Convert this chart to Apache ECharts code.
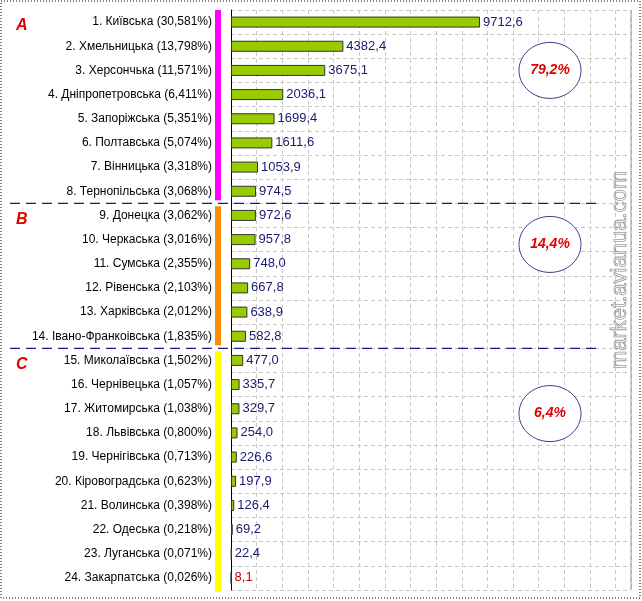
<!DOCTYPE html>
<html><head><meta charset="utf-8">
<script src="https://cdn.jsdelivr.net/npm/echarts@6/dist/echarts.min.js"></script>
<style>html,body{margin:0;padding:0;background:#fff}#c{width:642px;height:601px}</style>
</head><body><div id="c"></div>
<script>
const categories = ["1. Київська (30,581%)","2. Хмельницька (13,798%)","3. Херсончька (11,571%)","4. Дніпропетровська (6,411%)","5. Запоріжська (5,351%)","6. Полтавська (5,074%)","7. Вінницька (3,318%)","8. Тернопільська (3,068%)","9. Донецка (3,062%)","10. Черкаська (3,016%)","11. Сумська (2,355%)","12. Рівенська (2,103%)","13. Харківська (2,012%)","14. Івано-Франкоівська (1,835%)","15. Миколаївська (1,502%)","16. Чернівецька (1,057%)","17. Житомирська (1,038%)","18. Львівська (0,800%)","19. Чернігівська (0,713%)","20. Кіровоградська (0,623%)","21. Волинська (0,398%)","22. Одеська (0,218%)","23. Луганська (0,071%)","24. Закарпатська (0,026%)"];
const values = [9712.6,4382.4,3675.1,2036.1,1699.4,1611.6,1053.9,974.5,972.6,957.8,748.0,667.8,638.9,582.8,477.0,335.7,329.7,254.0,226.6,197.9,126.4,69.2,22.4,8.1];
const groups = [{name:"A",from:0,to:7,share:"79,2%",color:"#ff00ff"},{name:"B",from:8,to:13,share:"14,4%",color:"#ff8c00"},{name:"C",from:14,to:23,share:"6,4%",color:"#ffff00"}];
const chart = echarts.init(document.getElementById('c'));
const F = "Liberation Sans, Arial, sans-serif";
chart.setOption({
  animation:false,
  grid:{left:231,right:11,top:10,bottom:11},
  xAxis:{type:'value',min:0,max:15600,interval:1000,axisLabel:{show:false},axisTick:{show:false},
    axisLine:{show:false},splitLine:{lineStyle:{color:'#c8c8c8',type:[4,3]}}},
  yAxis:{type:'category',inverse:true,data:categories,
    axisLine:{lineStyle:{color:'#000'}},axisTick:{show:false},
    axisLabel:{margin:19,color:'#000',fontFamily:F,fontSize:12},
    splitLine:{show:true,lineStyle:{color:'#c8c8c8',type:[4,3]}}},
  series:[{type:'bar',data:values.map((v,i)=>({value:v,label:{color:i===23?'#cc0000':'#1a1a70'}})),
    barWidth:11,itemStyle:{color:'#99cc00',borderColor:'#333',borderWidth:1},
    label:{show:true,position:'right',distance:3,fontFamily:F,fontSize:13,
      formatter:p=>p.value.toFixed(1).replace('.',',')}}]
});
const g=[];
const rowY=i=>chart.convertToPixel({gridIndex:0},[0,i])[1];
const step=rowY(1)-rowY(0);
const ellRow=[2,1.2,2.2];
groups.forEach((gr,k)=>{
  const y0=rowY(gr.from)-step/2+(k===0?0:3), y1=rowY(gr.to)+step/2-(k===2?-2:3);
  g.push({type:'rect',shape:{x:215,y:y0,width:6,height:y1-y0},style:{fill:gr.color}});
  g.push({type:'text',x:16,y:rowY(gr.from)-4,style:{text:gr.name,fill:'#e00000',font:'italic bold 16px '+F}});
  const cy=rowY(gr.from)+step*ellRow[k];
  g.push({type:'ellipse',shape:{cx:550,cy:cy,rx:31,ry:28},style:{fill:'#fff',stroke:'#3a3a8a',lineWidth:1}});
  g.push({type:'text',x:550,y:cy,style:{text:gr.share,fill:'#e00000',font:'italic bold 14px '+F,align:'center',verticalAlign:'middle'}});
  if(k<2){const yl=rowY(gr.to)+step/2;
    g.push({type:'line',shape:{x1:10,y1:yl,x2:600,y2:yl},style:{stroke:'#1a1a80',lineWidth:1.3,lineDash:[10,6]}});}
});
g.push({type:'text',x:620,y:270,rotation:Math.PI/2,style:{text:'market.avianua.com',fill:'rgba(0,0,0,0)',stroke:'#999',lineWidth:0.8,font:'22px '+F,align:'center',verticalAlign:'middle'}});
g.push({type:'line',shape:{x1:631,y1:10,x2:631,y2:590},style:{stroke:'#999',lineWidth:1}});
g.push({type:'rect',shape:{x:1,y:1,width:639,height:597},style:{fill:'none',stroke:'#000',lineWidth:1,lineDash:[1,2]}});
chart.setOption({graphic:g});
</script></body></html>
